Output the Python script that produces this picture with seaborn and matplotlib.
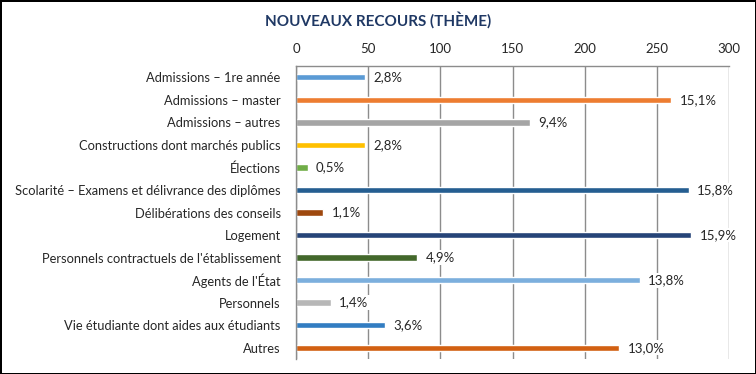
import matplotlib
matplotlib.use("Agg")
import matplotlib.pyplot as plt
import seaborn as sns
import pandas as pd

# data
themes = [
    "Admissions – 1re année",
    "Admissions – master",
    "Admissions – autres",
    "Constructions dont marchés publics",
    "Élections",
    "Scolarité – Examens et délivrance des diplômes",
    "Délibérations des conseils",
    "Logement",
    "Personnels contractuels de l'établissement",
    "Agents de l'État",
    "Personnels",
    "Vie étudiante dont aides aux étudiants",
    "Autres",
]
counts = [48, 260, 162, 48, 8, 272, 19, 274, 84, 238, 24, 62, 224]
pct_labels = ["2,8%", "15,1%", "9,4%", "2,8%", "0,5%", "15,8%", "1,1%",
              "15,9%", "4,9%", "13,8%", "1,4%", "3,6%", "13,0%"]
xticks = [0, 50, 100, 150, 200, 250, 300]

colors = ["#5B9BD5", "#ED7D31", "#A5A5A5", "#FFC000", "#70AD47", "#255E91",
          "#9E480E", "#264478", "#43682B", "#7CAFDD", "#B7B7B7", "#327DC2",
          "#D26012"]

df = pd.DataFrame({"theme": themes, "n": counts})

sns.set_style("white")
plt.rcParams["font.family"] = ["Lato", "DejaVu Sans"]

fig = plt.figure(figsize=(7.56, 3.74), dpi=100)
fig.patch.set_edgecolor("black")
fig.patch.set_linewidth(2)
ax = fig.add_axes([296 / 756, 1 - 359 / 374, 433 / 756, 293 / 374])

sns.barplot(data=df, x="n", y="theme", hue="theme", palette=colors,
            saturation=1, legend=False, width=0.28, orient="h", ax=ax)

ax.set_xlim(0, 300)
ax.set_ylim(12.5, -0.5)
ax.set_xticks(xticks)
ax.xaxis.tick_top()
ax.tick_params(axis="x", length=0, pad=8, labelsize=9.5, labelcolor="#262626")
ax.tick_params(axis="y", length=0, pad=11, labelsize=9.3, labelcolor="#262626")
ax.set_xlabel("")
ax.set_ylabel("")
ax.grid(axis="x", color="#8c8c8c", linewidth=1)
ax.set_axisbelow(True)
for s in ["right", "bottom"]:
    ax.spines[s].set_visible(False)
for s in ["left", "top"]:
    ax.spines[s].set_color("#8c8c8c")
    ax.spines[s].set_linewidth(1)

for cont, lab in zip(ax.containers, pct_labels):
    ax.bar_label(cont, labels=[lab], padding=6, fontsize=9.5, color="#262626",
                 bbox=dict(facecolor="white", edgecolor="none", pad=1))

fig.text(0.5, 1 - 20 / 374, "NOUVEAUX RECOURS (THÈME)", ha="center",
         va="center", fontsize=11, fontweight="bold", color="#1F3864")

fig.savefig("out.png", dpi=100)
